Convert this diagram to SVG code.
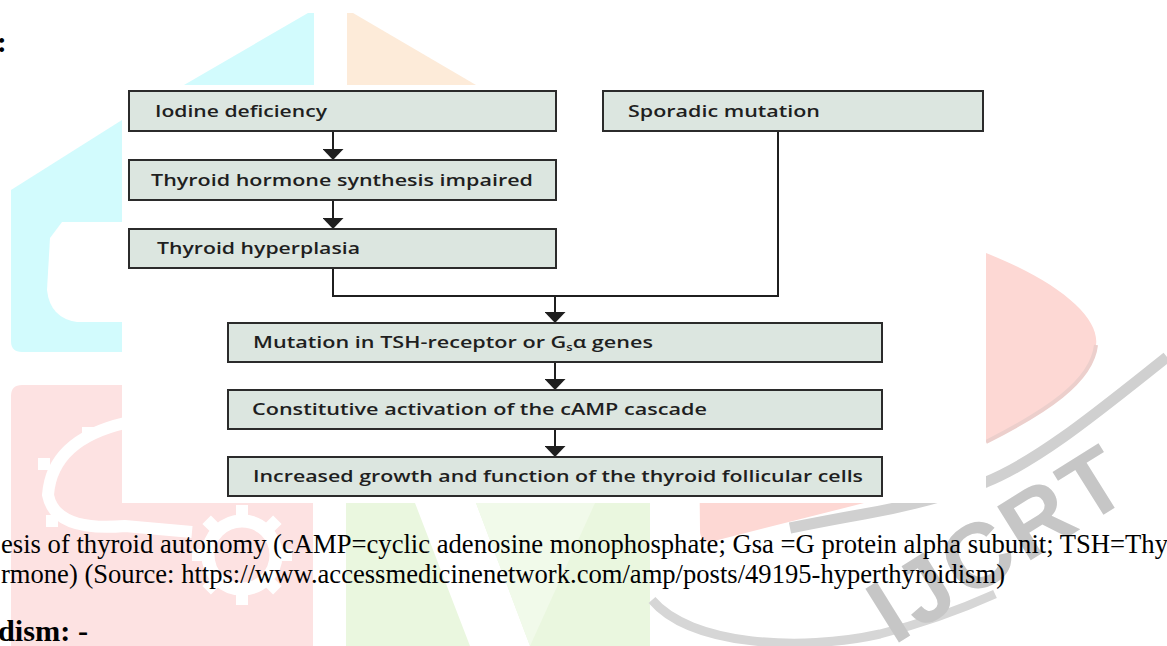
<svg xmlns="http://www.w3.org/2000/svg" width="1167" height="646" viewBox="0 0 1167 646">
<style>
.box{fill:#dce6e0;stroke:#2b2b2b;stroke-width:2}
.lbl{font-family:"Open Sans","Noto Sans",sans-serif;font-weight:600;font-size:16.5px;fill:#1f1f1f}
.con{fill:none;stroke:#1f1f1f;stroke-width:2}
.cap{font-family:"Liberation Serif","Times New Roman",serif;font-size:28px;fill:#000}
.head{font-family:"Liberation Serif","Times New Roman",serif;font-size:29px;font-weight:bold;fill:#000}
</style>
<defs>
<marker id="ah" markerUnits="userSpaceOnUse" viewBox="0 0 11 21" markerWidth="11" markerHeight="21" refX="11" refY="10.5" orient="auto">
<path d="M0,0 L11,10.5 L0,21 Z" fill="#1f1f1f"/>
</marker>
</defs>
<rect width="1167" height="646" fill="#fff"/>
<g id="watermark">
<path d="M184,85 L308,13 L314,13 L314,85 Z" fill="#d2fbfd"/>
<path d="M347,13 L353,13 L476,85 L347,85 Z" fill="#fdebd9"/>
<path d="M11,190 L122,120 L122,352 L22,352 Q11,352 11,341 Z" fill="#d2fbfd"/>
<path d="M122,222 L62,222 L50,238 L47,290 Q50,318 77,322 L122,322 Z" fill="#fff"/>
<path d="M11,396 Q11,385 22,385 L122,385 L122,503 L313,503 L313,646 L11,646 Z" fill="#fde2e2"/>
<path d="M125,423 Q52,440 48,495 Q55,532 125,526 L192,532" fill="none" stroke="#fff" stroke-width="12"/>
<g fill="#fff">
<rect x="38" y="458" width="12" height="12"/>
<rect x="46" y="515" width="12" height="12"/>
<rect x="82" y="427" width="12" height="12"/>
</g>
<circle cx="242" cy="555" r="34" fill="none" stroke="#fff" stroke-width="13"/>
<g fill="#fff" transform="translate(242,555)">
<rect x="-6" y="-50" width="12" height="12"/>
<rect x="-6" y="38" width="12" height="12"/>
<rect x="-50" y="-6" width="12" height="12"/>
<rect x="38" y="-6" width="12" height="12"/>
<rect x="-6" y="-50" width="12" height="12" transform="rotate(45)"/>
<rect x="-6" y="38" width="12" height="12" transform="rotate(45)"/>
<rect x="-50" y="-6" width="12" height="12" transform="rotate(45)"/>
<rect x="38" y="-6" width="12" height="12" transform="rotate(45)"/>
</g>
<rect x="346" y="503" width="304" height="143" fill="#eaf7df"/>
<path d="M415,503 L476,503 L530,646 L470,646 Z" fill="#fff"/>
<path d="M476,503 L595,503 L530,646 Z" fill="#f1faea"/>
<path d="M697,253 L986,253 C1060,282 1100,318 1096,345 C1092,382 1045,412 986,442 L864,503 L714,541 Q700,544 700,530 Z" fill="#fdd8d4"/>
<path d="M986,442 C1045,412 1092,382 1096,345" fill="none" stroke="#eccfcc" stroke-width="4"/>
<path d="M1167,357 C1100,410 1040,460 986,482 C940,498 900,508 864,514 C830,520 810,524 790,528" fill="none" stroke="#d0d0d0" stroke-width="11"/>
<path d="M652,600 C690,645 800,652 880,634 C920,624 955,612 995,594" fill="none" stroke="#d6d6d6" stroke-width="9"/>
<text x="0" y="0" transform="translate(1015,570) rotate(-32)" text-anchor="middle" font-family="Liberation Sans, Arial, sans-serif" font-weight="bold" font-size="92" letter-spacing="4" fill="#c6c6c6">IJCRT</text>
</g>
<rect id="panel" x="122" y="85" width="864" height="418" fill="#fff"/>
<g id="connectors">
<line class="con" x1="333" y1="131" x2="333" y2="160" marker-end="url(#ah)"/>
<line class="con" x1="333" y1="200" x2="333" y2="229" marker-end="url(#ah)"/>
<path class="con" d="M333,268 V296 H778 V131"/>
<line class="con" x1="555" y1="296" x2="555" y2="323" marker-end="url(#ah)"/>
<line class="con" x1="555" y1="362" x2="555" y2="390" marker-end="url(#ah)"/>
<line class="con" x1="555" y1="429" x2="555" y2="457" marker-end="url(#ah)"/>
</g>
<g id="n1"><rect class="box" x="129" y="91" width="427" height="40"/><text class="lbl" x="155" y="117" textLength="172" lengthAdjust="spacingAndGlyphs">Iodine deficiency</text></g>
<g id="n2"><rect class="box" x="129" y="160" width="427" height="40"/><text class="lbl" x="151" y="186" textLength="382" lengthAdjust="spacingAndGlyphs">Thyroid hormone synthesis impaired</text></g>
<g id="n3"><rect class="box" x="129" y="229" width="427" height="39"/><text class="lbl" x="157" y="254" textLength="203" lengthAdjust="spacingAndGlyphs">Thyroid hyperplasia</text></g>
<g id="n4"><rect class="box" x="603" y="91" width="380" height="40"/><text class="lbl" x="628" y="117" textLength="192" lengthAdjust="spacingAndGlyphs">Sporadic mutation</text></g>
<g id="n5"><rect class="box" x="228" y="323" width="654" height="39"/><text class="lbl" x="253" y="348" textLength="400" lengthAdjust="spacingAndGlyphs">Mutation in TSH-receptor or G<tspan font-size="10" dy="3">s</tspan><tspan dy="-3">α genes</tspan></text></g>
<g id="n6"><rect class="box" x="228" y="390" width="654" height="39"/><text class="lbl" x="252" y="415" textLength="455" lengthAdjust="spacingAndGlyphs">Constitutive activation of the cAMP cascade</text></g>
<g id="n7"><rect class="box" x="228" y="457" width="654" height="39"/><text class="lbl" x="253" y="482" textLength="610" lengthAdjust="spacingAndGlyphs">Increased growth and function of the thyroid follicular cells</text></g>
<g id="captions">
<text class="head" x="-3" y="52">:</text>
<text class="cap" x="1" y="553" textLength="1167" lengthAdjust="spacingAndGlyphs">esis of thyroid autonomy (cAMP=cyclic adenosine monophosphate; Gsa =G protein alpha subunit; TSH=Thy</text>
<text class="cap" x="1" y="583" textLength="1004" lengthAdjust="spacingAndGlyphs">rmone) (Source: https://www.accessmedicinenetwork.com/amp/posts/49195-hyperthyroidism)</text>
<text class="head" x="-2" y="641" textLength="90" lengthAdjust="spacingAndGlyphs">dism: -</text>
</g>
</svg>
